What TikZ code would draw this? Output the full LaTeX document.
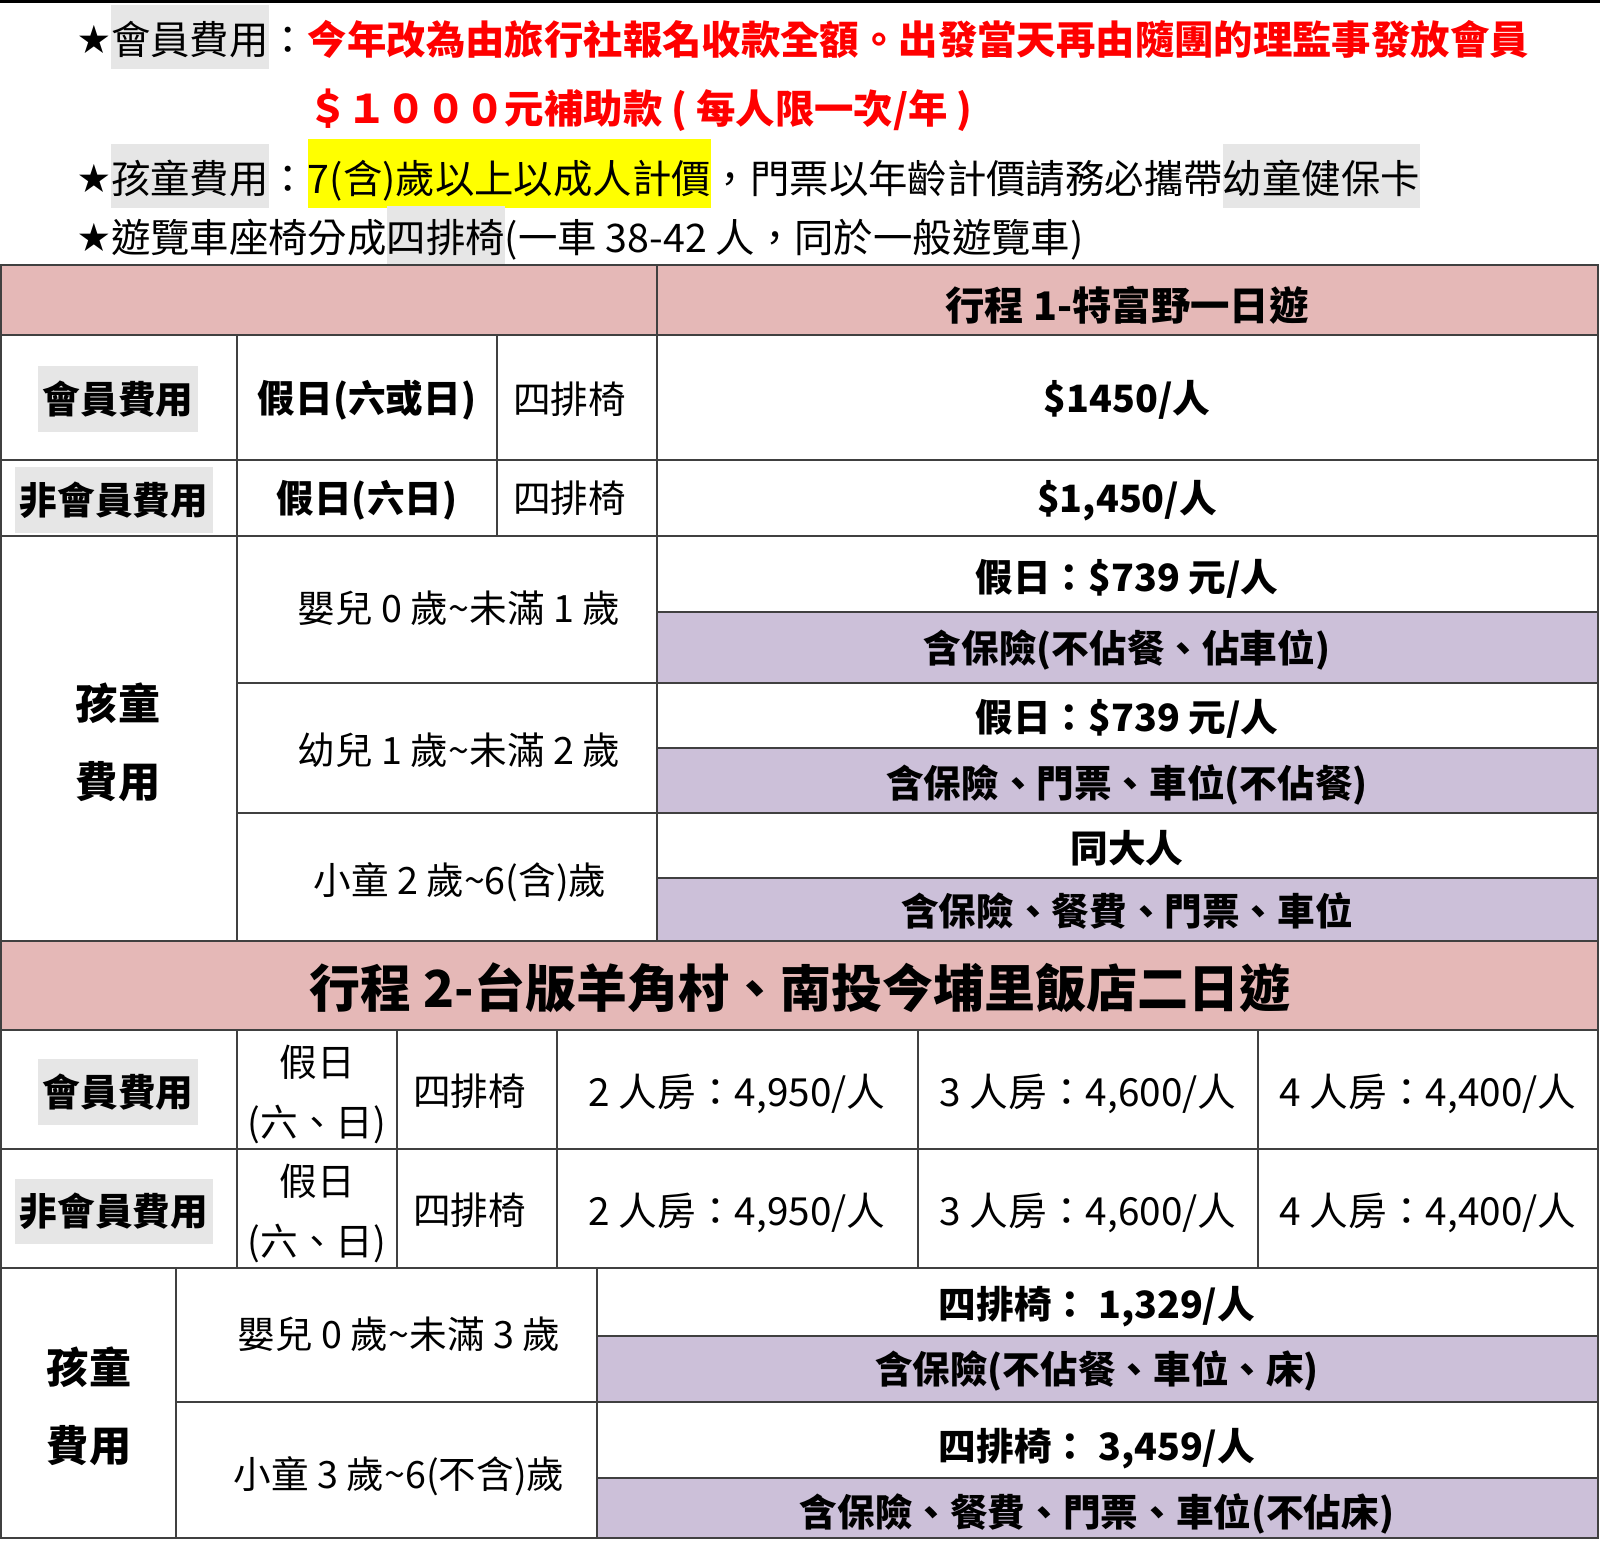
\documentclass[tikz,border=0pt]{standalone}
\usepackage{fontspec}
\setmainfont{Noto Sans CJK TC}
\usetikzlibrary{positioning}

\definecolor{hdrpink}{HTML}{E5B8B7}
\definecolor{rowlilac}{HTML}{CCC0D9}
\definecolor{hlgray}{HTML}{E6E6E6}
\definecolor{hlyellow}{HTML}{FFFF00}
\definecolor{notered}{HTML}{FF0000}
\definecolor{gridgray}{HTML}{404040}

\tikzset{
  seg/.style={inner sep=0, outer sep=0, text height=0.34cm, text depth=0.05cm, font=\fontsize{11.2}{13}\selectfont},
  starseg/.style={seg, font=\fontsize{9}{11}\selectfont, yshift=0.03cm},
  redseg/.style={seg, text=notered, font=\fontsize{11.2}{13}\selectfont\bfseries},
  hlseg/.style={seg, fill=#1, text height=0.49cm, text depth=0.15cm},
  cell/.style={inner sep=0, outer sep=0, text height=0.33cm, text depth=0.045cm, font=\fontsize{10.7}{13}\selectfont},
  bcell/.style={cell, font=\fontsize{10.7}{13}\selectfont\bfseries},
  pricecell/.style={cell, font=\fontsize{11}{13}\selectfont},
  kidcell/.style={cell, text height=0.37cm, text depth=0.05cm, font=\fontsize{12}{14}\selectfont\bfseries},
  lblcell/.style={bcell, fill=hlgray, inner xsep=0.05cm, text height=0.468cm, text depth=0.182cm},
  titlecell/.style={cell, text height=0.45cm, text depth=0.06cm, font=\fontsize{#1}{16}\selectfont\bfseries},
  tabrule/.style={draw=gridgray, line width=0.02cm},
}

\begin{document}
\begin{tikzpicture}[x=0.01cm, y=-0.01cm, line cap=rect]
    \useasboundingbox (0,0) rectangle (1600,1548);
    \fill[black] (0,0) rectangle (1600,3);

    % Notes
    \node[hlseg=hlgray, anchor=base west] (memhl) at (111,54) {會員費用};
    \node[starseg, base left=0.01cm of memhl] (star1) {★};
    \node[seg, base right=0pt of memhl] (colon1) {：};
    \node[redseg, base right=0pt of colon1] (red1) {今年改為由旅行社報名收款全額。出發當天再由隨團的理監事發放會員};
    \node[redseg, anchor=base west] (red2) at (308,123) {＄１０００元補助款 ( 每人限一次/年 )};

    \node[hlseg=hlgray, anchor=base west] (kidhl) at (111,193) {孩童費用};
    \node[starseg, base left=0.01cm of kidhl] (star2) {★};
    \node[seg, base right=0pt of kidhl] (colon2) {：};
    \node[hlseg=hlyellow, text height=0.54cm, base right=0pt of colon2] (agehl) {7(含)歲以上以成人計價};
    \node[seg, base right=0pt of agehl] (ticket) {，門票以年齡計價請務必攜帶};
    \node[hlseg=hlgray, base right=0pt of ticket] (cardhl) {幼童健保卡};

    \node[seg, anchor=base west] (bus) at (111,252) {遊覽車座椅分成};
    \node[starseg, base left=0.01cm of bus] (star3) {★};
    \node[hlseg=hlgray, text height=0.46cm, text depth=0.13cm, base right=0pt of bus] (seathl) {四排椅};
    \node[seg, base right=0pt of seathl] (busnote) {(一車 38-42 人，同於一般遊覽車)};

    % Fills
    \foreach \xa/\ya/\xb/\yb/\col in {1/265/1598/335/hdrpink, 1/941/1598/1030/hdrpink,
        657/612/1598/683/rowlilac, 657/748/1598/813/rowlilac, 657/878/1598/941/rowlilac,
        597/1336/1598/1402/rowlilac, 597/1478/1598/1538/rowlilac} {
            \fill[\col] (\xa,\ya) rectangle (\xb,\yb);
        }

    % Rules
    \foreach \ya/\xa/\xb in {265/1/1598, 335/1/1598, 460/1/1598, 536/1/1598, 612/657/1598,
        683/237/1598, 748/657/1598, 813/237/1598, 878/657/1598, 941/1/1598, 1030/1/1598,
        1149/1/1598, 1268/1/1598, 1336/597/1598, 1402/176/1598, 1478/597/1598, 1538/1/1598} {
            \draw[tabrule] (\xa,\ya) -- (\xb,\ya);
        }
    \foreach \xa/\ya/\yb in {1/265/1538, 1598/265/1538, 657/265/941, 237/335/941, 497/335/536,
        237/1030/1268, 397/1030/1268, 557/1030/1268, 918/1030/1268, 1258/1030/1268,
        176/1268/1538, 597/1268/1538} {
            \draw[tabrule] (\xa,\ya) -- (\xa,\yb);
        }

    % Trip 1
    \node[titlecell=11.2] (tripone) at (1127,301) {行程 1-特富野一日遊};
    \node[lblcell] (memA) at (118,399) {會員費用};
    \node[bcell] (dayA) at (367,398) {假日(六或日)};
    \node[cell, anchor=west] (seatA) at (513,399) {四排椅};
    \node[bcell] (feeA) at (1127,398) {\$1450/人};
    \node[lblcell] (nonA) at (114,500) {非會員費用};
    \node[bcell] (dayB) at (367,498) {假日(六日)};
    \node[cell, anchor=west] (seatB) at (513,498) {四排椅};
    \node[bcell] (feeB) at (1127,498) {\$1,450/人};

    \node[kidcell] (kidA) at (118,703) {孩童};
    \node[kidcell] (kidB) at (118,781) {費用};
    \node[cell] (babyA) at (459,608) {嬰兒 0 歲\textasciitilde 未滿 1 歲};
    \node[cell] (toddA) at (459,750) {幼兒 1 歲\textasciitilde 未滿 2 歲};
    \node[cell] (childA) at (460,880) {小童 2 歲\textasciitilde 6(含)歲};
    \node[bcell] (babyfee) at (1127,577) {假日：\$739 元/人};
    \node[bcell] (babyinc) at (1127,648) {含保險(不佔餐、佔車位)};
    \node[bcell] (toddfee) at (1127,717) {假日：\$739 元/人};
    \node[bcell] (toddinc) at (1127,783) {含保險、門票、車位(不佔餐)};
    \node[bcell] (childfee) at (1127,848) {同大人};
    \node[bcell] (childinc) at (1127,911) {含保險、餐費、門票、車位};

    % Trip 2
    \node[titlecell=14.5] (triptwo) at (800,988) {行程 2-台版羊角村、南投今埔里飯店二日遊};
    \node[lblcell] (memC) at (118,1092) {會員費用};
    \node[cell] (dayC1) at (317,1062) {假日};
    \node[cell] (dayC2) at (317,1122) {(六、日)};
    \node[cell, anchor=west] (seatC) at (413,1091) {四排椅};
    \node[pricecell] (roomC2) at (737,1092) {2 人房：4,950/人};
    \node[pricecell] (roomC3) at (1088,1092) {3 人房：4,600/人};
    \node[pricecell] (roomC4) at (1428,1092) {4 人房：4,400/人};
    \node[lblcell] (nonC) at (114,1211) {非會員費用};
    \node[cell] (dayD1) at (317,1181) {假日};
    \node[cell] (dayD2) at (317,1241) {(六、日)};
    \node[cell, anchor=west] (seatD) at (413,1210) {四排椅};
    \node[pricecell] (roomD2) at (737,1211) {2 人房：4,950/人};
    \node[pricecell] (roomD3) at (1088,1211) {3 人房：4,600/人};
    \node[pricecell] (roomD4) at (1428,1211) {4 人房：4,400/人};

    \node[kidcell] (kidC) at (89,1367) {孩童};
    \node[kidcell] (kidD) at (89,1445) {費用};
    \node[cell] (babyB) at (399,1334) {嬰兒 0 歲\textasciitilde 未滿 3 歲};
    \node[cell] (childB) at (399,1474) {小童 3 歲\textasciitilde 6(不含)歲};
    \node[bcell] (babyfeeB) at (1097,1304) {四排椅： 1,329/人};
    \node[bcell] (babyincB) at (1097,1369) {含保險(不佔餐、車位、床)};
    \node[bcell] (childfeeB) at (1097,1446) {四排椅： 3,459/人};
    \node[bcell] (childincB) at (1097,1512) {含保險、餐費、門票、車位(不佔床)};
\end{tikzpicture}
\end{document}
